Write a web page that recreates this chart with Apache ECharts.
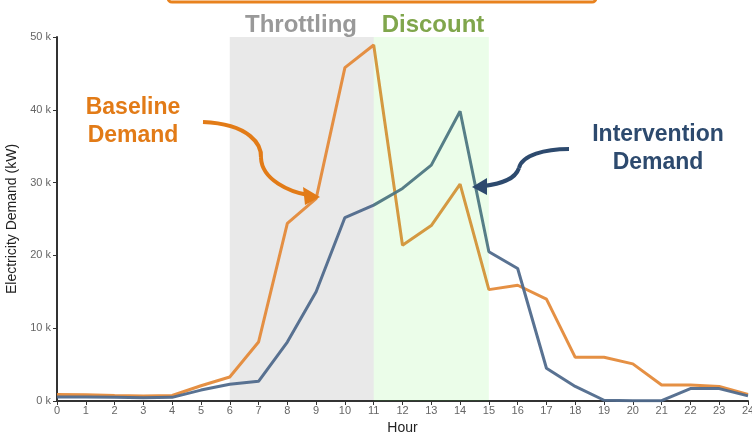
<!DOCTYPE html>
<html><head><meta charset="utf-8">
<script src="https://cdn.jsdelivr.net/npm/echarts@6/dist/echarts.min.js"></script>
<style>html,body{margin:0;padding:0;background:#fff}#c{width:752px;height:432px}</style>
</head><body><div id="c"></div>
<script>
const hours = [0,1,2,3,4,5,6,7,8,9,10,11,12,13,14,15,16,17,18,19,20,21,22,23,24];
const baselineDemand = [900,850,750,700,750,2100,3300,8100,24400,27800,45800,48900,21400,24100,29800,15300,15900,14000,6000,6000,5100,2200,2200,2000,900];
const interventionDemand = [550,550,500,450,500,1500,2300,2700,8100,15000,25200,26900,29200,32400,39800,20500,18200,4500,2000,100,50,50,1700,1700,700];
const yTicks = [0,10000,20000,30000,40000,50000];
const throttlingWindow = [6,11];
const discountWindow = [11,15];

const chart = echarts.init(document.getElementById('c'), null, {renderer:'canvas'});
const pair = (xs, ys) => xs.map((x,i)=>[x, ys[i]]);

chart.setOption({
  animation:false,
  grid:{left:57,right:4,top:37,bottom:31,outerBoundsMode:'none',containLabel:false},
  xAxis:{
    type:'value', min:0, max:24, interval:1,
    name:'Hour', nameLocation:'middle', nameGap:17,
    nameTextStyle:{color:'#222',fontSize:14,fontFamily:'Liberation Sans'},
    axisLine:{show:true,lineStyle:{color:'#333',width:2}},
    axisTick:{show:true,length:4,lineStyle:{color:'#333'}},
    axisLabel:{color:'#666',fontSize:11,margin:4,fontFamily:'Liberation Sans'},
    splitLine:{show:false}
  },
  yAxis:{
    type:'value', min:yTicks[0], max:yTicks[yTicks.length-1], interval:10000,
    name:'Electricity Demand (kW)', nameLocation:'middle', nameGap:33,
    nameTextStyle:{color:'#222',fontSize:14,fontFamily:'Liberation Sans'},
    axisLine:{show:true,lineStyle:{color:'#333',width:2}},
    axisTick:{show:true,length:4,lineStyle:{color:'#333'}},
    axisLabel:{color:'#666',fontSize:11,margin:6,fontFamily:'Liberation Sans',formatter:v=>(v/1000)+' k'},
    splitLine:{show:false}
  },
  series:[
    {type:'line',data:[],z:1,silent:true,
     markArea:{silent:true,z:0,itemStyle:{color:'#e9e9e9'},data:[[{xAxis:throttlingWindow[0]},{xAxis:throttlingWindow[1]}]]}},
    {name:'Baseline',type:'line',data:pair(hours,baselineDemand),symbol:'none',z:2,
     lineStyle:{color:'#e48a3a',width:3,opacity:0.95}},
    {name:'Intervention',type:'line',data:pair(hours,interventionDemand),symbol:'none',z:2,
     lineStyle:{color:'#506a8c',width:3,opacity:0.95}},
    {type:'line',data:[],z:10,silent:true,
     markArea:{silent:true,z:10,itemStyle:{color:'rgba(60,235,40,0.1)'},data:[[{xAxis:discountWindow[0]},{xAxis:discountWindow[1]}]]}}
  ],
  graphic:[
    {type:'rect',shape:{x:168,y:-30,width:428,height:32,r:4},style:{fill:'none',stroke:'#e8821e',lineWidth:3}},
    {type:'text',x:301,y:25,style:{text:'Throttling',fill:'#999999',font:'bold 24px "Liberation Sans"',textAlign:'center',textVerticalAlign:'middle'}},
    {type:'text',x:433,y:25,style:{text:'Discount',fill:'#80a64c',font:'bold 24px "Liberation Sans"',textAlign:'center',textVerticalAlign:'middle'}},
    {type:'text',x:133,y:122,style:{text:'Baseline\nDemand',fill:'#e27b17',font:'bold 23px "Liberation Sans"',lineHeight:28,textAlign:'center',textVerticalAlign:'middle'}},
    {type:'text',x:658,y:149,style:{text:'Intervention\nDemand',fill:'#2d4a6e',font:'bold 23px "Liberation Sans"',lineHeight:28,textAlign:'center',textVerticalAlign:'middle'}},
    {type:'bezierCurve',z:20,shape:{x1:203,y1:122,cpx1:250,cpy1:124,cpx2:262,cpy2:145,x2:261,y2:158},style:{stroke:'#e27b17',lineWidth:4,fill:'none'}},
    {type:'bezierCurve',z:20,shape:{x1:261,y1:158,cpx1:262,cpy1:180,cpx2:290,cpy2:192,x2:308,y2:195},style:{stroke:'#e27b17',lineWidth:4,fill:'none'}},
    {type:'polygon',z:20,shape:{points:[[320,197],[303,187],[305,205]]},style:{fill:'#e27b17'}},
    {type:'bezierCurve',z:20,shape:{x1:569,y1:149,cpx1:545,cpy1:149,cpx2:522,cpy2:155,x2:519,y2:168},style:{stroke:'#2d4a6e',lineWidth:4,fill:'none'}},
    {type:'bezierCurve',z:20,shape:{x1:519,y1:168,cpx1:515,cpy1:180,cpx2:500,cpy2:184,x2:484,y2:186},style:{stroke:'#2d4a6e',lineWidth:4,fill:'none'}},
    {type:'polygon',z:20,shape:{points:[[472,187],[487,178],[487,195]]},style:{fill:'#2d4a6e'}}
  ]
});
</script></body></html>
